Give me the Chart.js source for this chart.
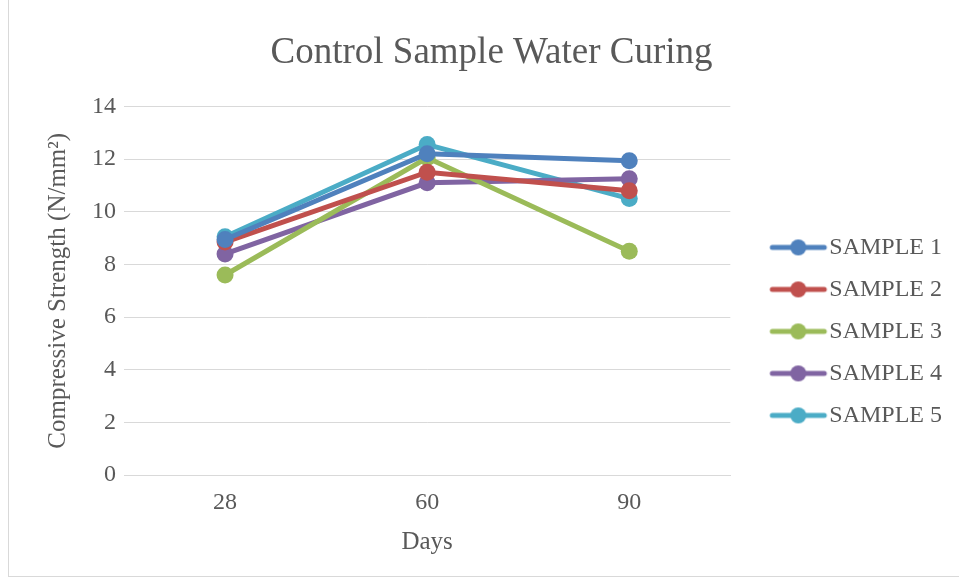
<!DOCTYPE html>
<html>
<head>
<meta charset="utf-8">
<script src="https://cdn.jsdelivr.net/npm/chart.js@4"></script>
<style>
  html, body { margin: 0; padding: 0; background: #fff; }
  #wrap { position: relative; width: 959px; height: 579px; overflow: hidden; }
  #frame { position: absolute; left: 8px; top: -2px; width: 960px; height: 579px; border: 1px solid #d9d9d9; box-sizing: border-box; pointer-events: none; }
  canvas { position: absolute; left: 0; top: 0; }
</style>
</head>
<body>
<div id="wrap">
  <canvas id="chart" width="959" height="579"></canvas>
  <div id="frame"></div>
</div>
<script>
const days = ['28', '60', '90'];
const sample1 = [8.95, 12.2, 11.94];
const sample2 = [8.85, 11.5, 10.8];
const sample3 = [7.6, 12.05, 8.5];
const sample4 = [8.4, 11.1, 11.25];
const sample5 = [9.05, 12.55, 10.5];
const seriesNames = ['SAMPLE 1', 'SAMPLE 2', 'SAMPLE 3', 'SAMPLE 4', 'SAMPLE 5'];
const seriesColors = ['#4f81bd', '#c0504d', '#9bbb59', '#8064a2', '#4bacc6'];

const FONT = "'Liberation Serif', 'Times New Roman', serif";
const TEXT = '#595959';
const LEGEND_GAP = 31;

// legend marker: line with a dot in the middle, like Excel
function legendMarker(color) {
  const c = document.createElement('canvas');
  c.width = 62;
  c.height = 20;
  const g = c.getContext('2d');
  g.strokeStyle = color;
  g.lineWidth = 5;
  g.lineCap = 'round';
  g.beginPath();
  g.moveTo(5, 10);
  g.lineTo(57, 10);
  g.stroke();
  g.fillStyle = color;
  g.beginPath();
  g.arc(31, 10, 8, 0, Math.PI * 2);
  g.fill();
  return c;
}

// widen the legend box on its left side so there is room between plot and legend
const legendGap = {
  id: 'legendGap',
  afterInit(chart) {
    const lg = chart.legend;
    const fit = lg.fit;
    const draw = lg.draw;
    lg.fit = function () { fit.call(this); this.width += LEGEND_GAP; };
    lg.draw = function () { this.left += LEGEND_GAP; draw.call(this); this.left -= LEGEND_GAP; };
  },
};

const values = [sample1, sample2, sample3, sample4, sample5];
const datasets = values.map((v, i) => ({
  label: seriesNames[i],
  data: v,
  borderColor: seriesColors[i],
  backgroundColor: seriesColors[i],
  borderWidth: 5,
  pointRadius: 8.5,
  pointHoverRadius: 8.5,
  pointBorderWidth: 0,
  pointStyle: 'circle',
  legendImage: legendMarker(seriesColors[i]),
  tension: 0,
  fill: false,
}));

new Chart(document.getElementById('chart').getContext('2d'), {
  type: 'line',
  data: { labels: days, datasets },
  plugins: [legendGap],
  options: {
    responsive: false,
    animation: false,
    layout: { padding: { left: 31, right: 7, top: 31, bottom: 18 } },
    plugins: {
      title: {
        display: true,
        text: 'Control Sample Water Curing',
        color: TEXT,
        font: { family: FONT, size: 37, weight: 'normal' },
        padding: { top: 0, bottom: 31 },
      },
      legend: {
        position: 'right',
        // empty title only pushes the items down to where Excel puts them
        title: { display: true, text: ' ', font: { family: FONT, size: 24 }, padding: { top: 21, bottom: 21 } },
        labels: {
          color: TEXT,
          font: { family: FONT, size: 24 },
          usePointStyle: true,
          pointStyleWidth: 38,
          padding: 18,
          generateLabels: chart => chart.data.datasets.map((d, i) => ({
            text: d.label,
            pointStyle: d.legendImage,
            fillStyle: d.borderColor,
            strokeStyle: d.borderColor,
            lineWidth: 0,
            fontColor: TEXT,
            datasetIndex: i,
            hidden: false,
          })),
        },
      },
      tooltip: { enabled: false },
    },
    scales: {
      x: {
        offset: true,
        grid: { display: false, drawTicks: false },
        border: { display: true, color: '#d9d9d9', width: 1 },
        ticks: { color: TEXT, font: { family: FONT, size: 24 }, padding: 13 },
        title: { display: true, text: 'Days', color: TEXT, font: { family: FONT, size: 25 }, padding: { top: -3, bottom: 4 } },
      },
      y: {
        min: 0,
        max: 14,
        ticks: { stepSize: 2, color: TEXT, font: { family: FONT, size: 24 }, padding: 8 },
        grid: { color: '#d9d9d9', lineWidth: 1, drawTicks: false },
        border: { display: false },
        title: { display: true, text: 'Compressive Strength (N/mm\u00B2)', color: TEXT, font: { family: FONT, size: 25 }, padding: { top: 12, bottom: 11 } },
      },
    },
  },
});
</script>
</body>
</html>
